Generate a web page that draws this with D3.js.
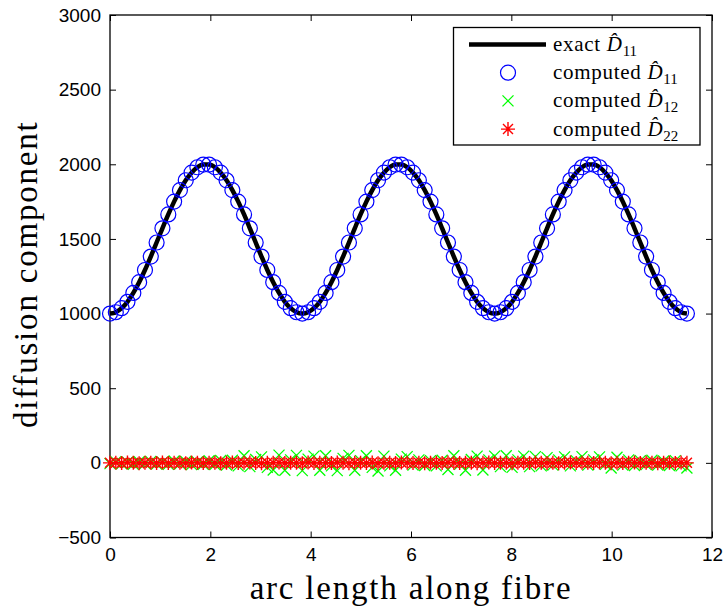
<!DOCTYPE html>
<html>
<head>
<meta charset="utf-8">
<script src="https://cdn.jsdelivr.net/npm/d3@7"></script>
<style>
    body { margin: 0; background: #fff; }
    .axis .tick text { font-family: "Liberation Sans", Arial, sans-serif; font-size: 19px; fill: #000; }
    .axis .tick line { stroke: #000; stroke-width: 1; }
    .axisLabel { font-family: "Liberation Serif", "Times New Roman", serif; font-size: 33px; letter-spacing: 1.8px; }
    .legendText { font-family: "Liberation Serif", "Times New Roman", serif; font-size: 21px; letter-spacing: 0.7px; }
</style>
</head>
<body>
<svg id="chart"></svg>
<script>
// arc length samples along the fibre
const arcLength = [
    0, 0.116, 0.232, 0.348, 0.465, 0.581, 0.697, 0.813, 0.929, 1.045,
    1.162, 1.278, 1.394, 1.510, 1.626, 1.742, 1.859, 1.975, 2.091, 2.207,
    2.323, 2.439, 2.556, 2.672, 2.788, 2.904, 3.020, 3.136, 3.253, 3.369,
    3.485, 3.601, 3.717, 3.833, 3.949, 4.066, 4.182, 4.298, 4.414, 4.530,
    4.646, 4.763, 4.879, 4.995, 5.111, 5.227, 5.343, 5.460, 5.576, 5.692,
    5.808, 5.924, 6.040, 6.157, 6.273, 6.389, 6.505, 6.621, 6.737, 6.854,
    6.970, 7.086, 7.202, 7.318, 7.434, 7.551, 7.667, 7.783, 7.899, 8.015,
    8.131, 8.247, 8.364, 8.480, 8.596, 8.712, 8.828, 8.944, 9.061, 9.177,
    9.293, 9.409, 9.525, 9.641, 9.758, 9.874, 9.990, 10.106, 10.222, 10.338,
    10.455, 10.571, 10.687, 10.803, 10.919, 11.035, 11.152, 11.268, 11.384, 11.500
];

// D11 (exact and computed lie on top of each other)
const d11 = [
    1000, 1009, 1036, 1079, 1138, 1210, 1292, 1382, 1476, 1571, 1664, 1750, 1827, 1893, 1944, 1980, 1998,
    1998, 1980, 1944, 1893, 1827, 1750, 1664, 1571, 1476, 1382, 1292, 1210, 1138, 1079, 1036, 1009,
    1000, 1009, 1036, 1079, 1138, 1210, 1292, 1382, 1476, 1571, 1664, 1750, 1827, 1893, 1944, 1980, 1998,
    1998, 1980, 1944, 1893, 1827, 1750, 1664, 1571, 1476, 1382, 1292, 1210, 1138, 1079, 1036, 1009,
    1000, 1009, 1036, 1079, 1138, 1210, 1292, 1382, 1476, 1571, 1664, 1750, 1827, 1893, 1944, 1980, 1998,
    1998, 1980, 1944, 1893, 1827, 1750, 1664, 1571, 1476, 1382, 1292, 1210, 1138, 1079, 1036, 1009,
    1000
];

const d12 = [
    -5, 8, -6, 4, -9, 7, -4, 10, -8, 5,
    -10, 12, -7, 9, -12, 6, -9, 14, -11, 16,
    -14, 18, -20, 48, -25, 22, 40, -30, -48, 52,
    -50, 20, 50, -52, 25, 45, -50, 48, -20, -52,
    30, 50, -50, 15, 48, -30, -55, 45, -20, -50,
    25, 42, -15, 20, -18, 15, -20, 18, -45, 48,
    -10, -50, 22, 45, -48, 20, 45, -25, 48, -30,
    20, 45, -25, 42, -20, 35, -15, 20, 40, -20,
    15, 42, -15, 20, 40, -10, -35, 38, -15, 20,
    -18, 15, -12, 18, -15, 12, -18, 15, -20, -35
];

const d22 = [
    0, 1, -1, 2, 0, -2, 1, 0, -1, 2,
    -1, 0, 1, -2, 2, 0, -1, 1, 0, -2,
    1, 2, -1, 0, 2, -1, -2, 1, 0, 2,
    -1, 1, 0, -2, 2, -1, 0, 1, -1, 2,
    0, -2, 1, 0, -1, 2, -2, 1, 0, -1,
    2, 0, -1, 1, -2, 0, 1, -1, 2, 0,
    -1, 1, 0, -2, 1, 2, -1, 0, 1, -2,
    0, 1, -1, 2, 0, -1, 1, -2, 0, 2,
    -1, 0, 1, -1, 2, 0, -2, 1, -1, 0,
    2, -1, 0, 1, -2, 1, 0, -1, 2, 0
];

const xTicks = [0, 2, 4, 6, 8, 10, 12];
const yTicks = [-500, 0, 500, 1000, 1500, 2000, 2500, 3000];

const legendPrefixes = ['exact', 'computed', 'computed', 'computed'];
const legendSubscripts = ['11', '11', '12', '22'];

class DiffusionChart {
    constructor(_config) {
        this.config = {
            parentElement: _config.parentElement,
            containerWidth: _config.containerWidth || 727,
            containerHeight: _config.containerHeight || 608,
            margin: { top: 15, right: 15, bottom: 70.5, left: 110 }
        }
        this.initVis();
    }

    initVis() {
        let vis = this;

        vis.width = vis.config.containerWidth - vis.config.margin.left - vis.config.margin.right;
        vis.height = vis.config.containerHeight - vis.config.margin.top - vis.config.margin.bottom;

        vis.xScale = d3.scaleLinear()
            .domain([0, 12])
            .range([0, vis.width]);

        vis.yScale = d3.scaleLinear()
            .domain([-500, 3000])
            .range([vis.height, 0]);

        vis.svg = d3.select(vis.config.parentElement)
            .attr('width', vis.config.containerWidth)
            .attr('height', vis.config.containerHeight);

        vis.chart = vis.svg.append('g')
            .attr('transform', `translate(${vis.config.margin.left},${vis.config.margin.top})`);

        // matlab style: ticks point inwards on all four sides
        vis.chart.append('g')
            .attr('class', 'axis x-axis')
            .attr('transform', `translate(0,${vis.height})`)
            .call(d3.axisBottom(vis.xScale).tickValues(xTicks).tickSizeInner(-6).tickSizeOuter(0).tickPadding(10.5).tickFormat(d3.format('d')));
        vis.chart.append('g')
            .attr('class', 'axis x-axis-top')
            .call(d3.axisTop(vis.xScale).tickValues(xTicks).tickSizeInner(-6).tickSizeOuter(0).tickFormat(''));
        vis.chart.append('g')
            .attr('class', 'axis y-axis')
            .call(d3.axisLeft(vis.yScale).tickValues(yTicks).tickSizeInner(-6).tickSizeOuter(0).tickPadding(9).tickFormat(d3.format('d')));
        vis.chart.append('g')
            .attr('class', 'axis y-axis-right')
            .attr('transform', `translate(${vis.width},0)`)
            .call(d3.axisRight(vis.yScale).tickValues(yTicks).tickSizeInner(-6).tickSizeOuter(0).tickFormat(''));
        vis.chart.selectAll('.axis .domain').remove();

        vis.chart.append('rect')
            .attr('width', vis.width)
            .attr('height', vis.height)
            .attr('fill', 'none')
            .attr('stroke', '#000')
            .attr('stroke-width', 1.3);

        vis.chart.append('text')
            .attr('class', 'axisLabel')
            .attr('x', vis.width / 2)
            .attr('y', vis.height + 61)
            .attr('text-anchor', 'middle')
            .text('arc length along fibre');

        vis.chart.append('text')
            .attr('class', 'axisLabel')
            .attr('transform', `translate(${37 - vis.config.margin.left},${vis.height / 2 - 2}) rotate(-90)`)
            .attr('text-anchor', 'middle')
            .text('diffusion component');

        vis.renderVis();
        vis.renderLegend();
    }

    drawMarker(g, type) {
        if (type === 'circle') {
            g.append('circle').attr('r', 7.5).attr('fill', 'none').attr('stroke', '#0000ff').attr('stroke-width', 1.2);
        } else if (type === 'cross') {
            g.append('path').attr('d', 'M-5.5,-5.5L5.5,5.5M-5.5,5.5L5.5,-5.5').attr('stroke', '#00ff00').attr('stroke-width', 1.3);
        } else if (type === 'star') {
            g.append('path').attr('d', 'M0,-7V7M-7,0H7M-5,-5L5,5M-5,5L5,-5').attr('stroke', '#ff0000').attr('stroke-width', 1.4);
        }
    }

    renderVis() {
        let vis = this;
        const pts = arcLength.map((s, i) => ({ s: s, d11: d11[i], d12: d12[i], d22: d22[i] }));

        const line = d3.line()
            .x(d => vis.xScale(d.s))
            .y(d => vis.yScale(d.d11))
            .curve(d3.curveMonotoneX);

        vis.chart.append('path')
            .datum(pts)
            .attr('d', line)
            .attr('fill', 'none')
            .attr('stroke', '#000')
            .attr('stroke-width', 4.5);

        const series = [
            { key: 'd11', type: 'circle' },
            { key: 'd12', type: 'cross' },
            { key: 'd22', type: 'star' }
        ];
        series.forEach(sr => {
            vis.chart.append('g').selectAll('g')
                .data(pts)
                .join('g')
                .attr('transform', d => `translate(${vis.xScale(d.s)},${vis.yScale(d[sr.key])})`)
                .each(function () { vis.drawMarker(d3.select(this), sr.type); });
        });
    }

    renderLegend() {
        let vis = this;
        const lg = vis.svg.append('g').attr('transform', 'translate(453.5,27.5)');
        lg.append('rect')
            .attr('width', 246.5)
            .attr('height', 117.5)
            .attr('fill', '#fff')
            .attr('stroke', '#000')
            .attr('stroke-width', 1.3);

        const types = ['line', 'circle', 'cross', 'star'];
        legendPrefixes.forEach((p, i) => {
            const row = lg.append('g').attr('transform', `translate(0,${17 + i * 28.2})`);
            if (types[i] === 'line') {
                row.append('line').attr('x1', 15.5).attr('x2', 92.5).attr('stroke', '#000').attr('stroke-width', 4.5);
            } else {
                vis.drawMarker(row.append('g').attr('transform', 'translate(54.5,0)'), types[i]);
            }
            const t = row.append('text').attr('class', 'legendText').attr('x', 99.5).attr('y', 6.5);
            t.append('tspan').text(p + ' ');
            t.append('tspan').attr('font-style', 'italic').text('D\u0302');
            t.append('tspan').attr('font-size', '15px').attr('dy', 5).attr('letter-spacing', 0).text(legendSubscripts[i]);
        });
    }
}

new DiffusionChart({ parentElement: '#chart' });
</script>
</body>
</html>
